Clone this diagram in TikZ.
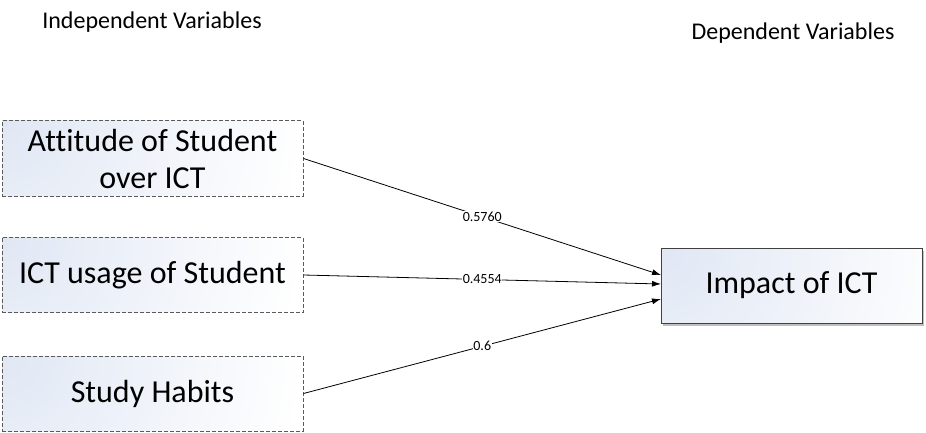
\documentclass[tikz,border=0pt]{standalone}
\usepackage{fontspec}
\setmainfont[Ligatures=NoCommon]{Carlito}
\usetikzlibrary{arrows.meta}
\definecolor{boxtint}{RGB}{224,231,244}
\definecolor{framegray}{RGB}{90,90,90}
\begin{document}
\begin{tikzpicture}[x=1pt,y=-1pt,
  cornerglow/.style={path picture={
    \shade[inner color=boxtint, outer color=white]
      (path picture bounding box.north west) circle (300pt);}},
  varbox/.style={draw=framegray, line width=1pt, dash pattern=on 4pt off 2pt,
    cornerglow, minimum width=301pt, minimum height=75pt, align=center,
    font=\fontsize{32}{37}\selectfont, inner sep=0pt},
  targetbox/.style={draw=black!75, line width=1pt, fill=white,
    cornerglow, minimum width=261pt, minimum height=75pt,
    font=\fontsize{32}{37}\selectfont, inner sep=0pt},
  heading/.style={font=\fontsize{24}{28}\selectfont, anchor=base},
  link/.style={-{Latex[length=9pt,width=6pt]}, line width=0.8pt},
  weight/.style={fill=white, font=\fontsize{14}{16}\selectfont, inner sep=0.5pt}]
\useasboundingbox (0,0) rectangle (926,433);

\node[heading] (indep) at (152,29) {Independent Variables};
\node[heading] (dep) at (793,40) {Dependent Variables};

\node[varbox] (attitude) at (152.5,158.5) {Attitude of Student\\over ICT};
\node[varbox] (usage) at (152.5,275) {ICT usage of Student};
\node[varbox] (habits) at (152.5,393.5) {Study Habits};

% soft drop shadow under the target box
\fill[black!25] (663,251) rectangle (924,326);
\node[targetbox] (impact) at (791.5,285.5) {Impact of ICT};

\coordinate (inA) at (661,275);
\coordinate (inB) at (661,284);
\coordinate (inC) at (661,299);

\draw[link] (attitude.east) -- node[weight] {0.5760} (inA);
\draw[link] (usage.east) -- node[weight] {0.4554} (inB);
\draw[link] (habits.east) -- node[weight] {0.6} (inC);
\end{tikzpicture}
\end{document}
